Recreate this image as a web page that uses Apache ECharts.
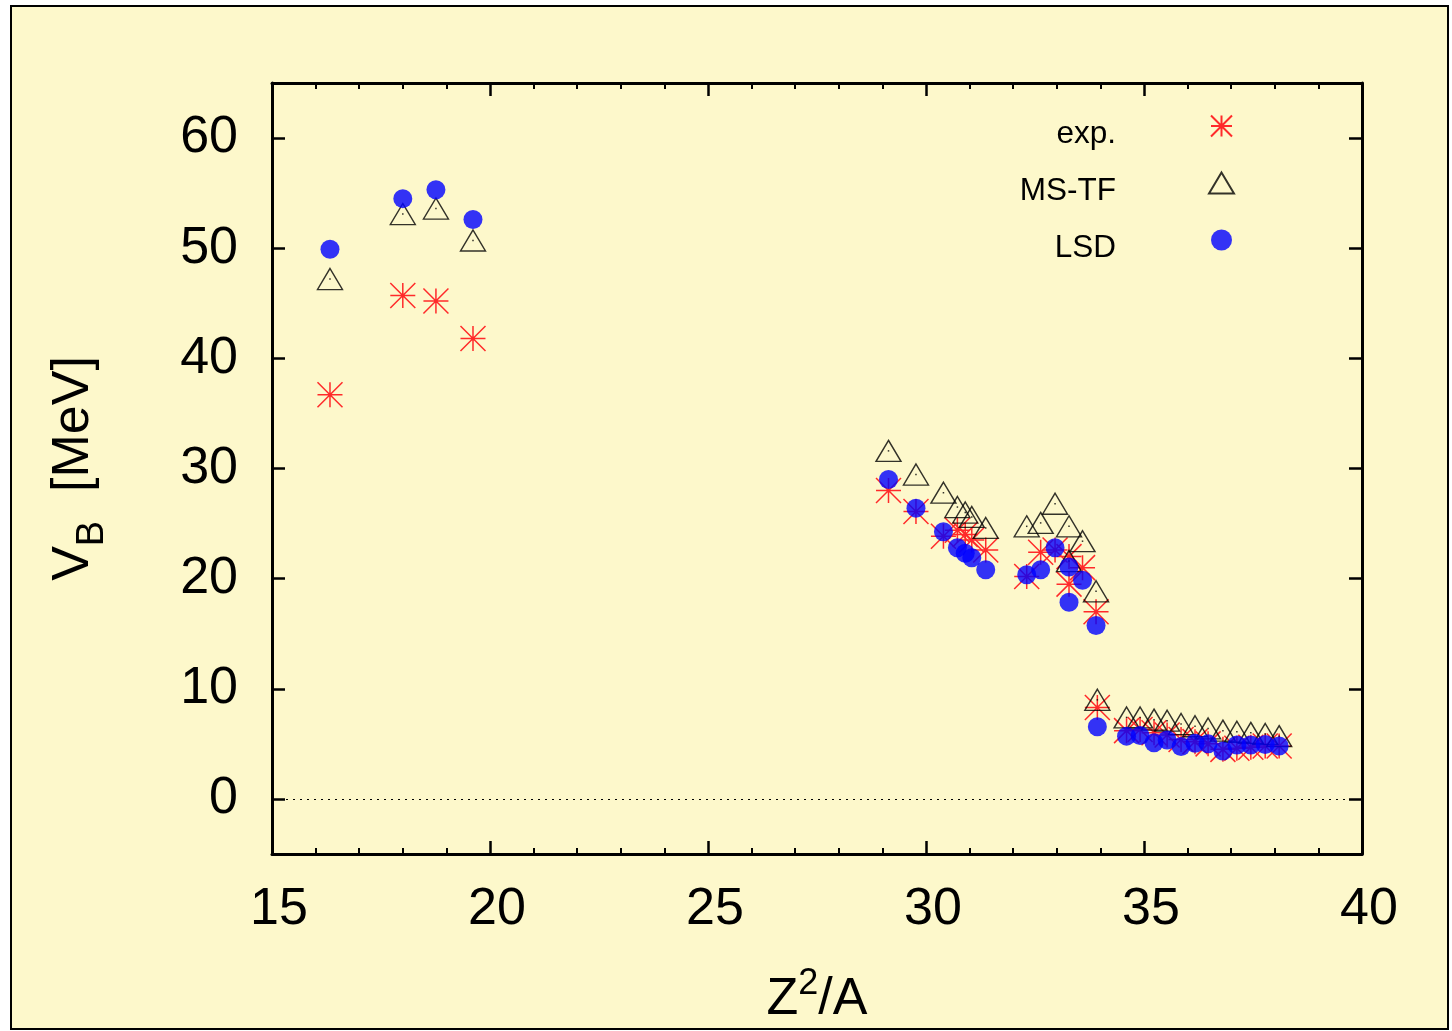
<!DOCTYPE html>
<html>
<head>
<meta charset="utf-8">
<script src="https://cdn.jsdelivr.net/npm/echarts@6/dist/echarts.min.js"></script>
<style>
html,body{margin:0;padding:0;background:#fff;}
#chart{width:1452px;height:1031px;}
</style>
</head>
<body>
<div id="chart"></div>
<script>
// Z^2/A values (shared by all three data sets)
const zSqOverA = [
  16.33, 18.00, 18.76, 19.61,
  29.14, 29.77, 30.40, 30.72, 30.90, 31.05, 31.37,
  32.31, 32.63, 32.96, 33.28, 33.28, 33.59, 33.90,
  33.93, 34.60, 34.91, 35.23, 35.53, 35.85, 36.17, 36.47, 36.81, 37.13, 37.45, 37.78, 38.10
];
// Barrier heights V_B [MeV]
const expValues = [
  36.7, 45.7, 45.2, 41.8,
  28.0, 26.1, 23.85, 24.4, 24.0, 23.5, 22.6,
  20.2, 22.4, 22.6, 19.5, 22.0, 21.0, 17.0,
  8.3, 6.2, 6.3, 6.0, 5.8, 5.4, 5.2, 5.0, 4.5, 4.6, 4.7, 4.8, 4.8
];
const msTfValues = [
  47.2, 53.1, 53.6, 50.7,
  31.6, 29.45, 27.8, 26.5, 26.0, 25.6, 24.6,
  24.75, 25.06, 26.8, 24.75, 21.6, 23.4, 18.85,
  9.0, 7.4, 7.4, 7.2, 7.1, 6.8, 6.6, 6.4, 6.2, 6.1, 6.0, 5.9, 5.7
];
const lsdValues = [
  49.9, 54.5, 55.3, 52.6,
  29.0, 26.4, 24.25, 22.8, 22.3, 21.9, 20.8,
  20.36, 20.8, 22.8, 21.06, 17.85, 19.85, 15.75,
  6.55, 5.7, 5.75, 5.1, 5.35, 4.75, 5.05, 5.0, 4.35, 4.9, 4.9, 4.95, 4.8
];
const yTickValues = [0, 10, 20, 30, 40, 50, 60];
const seriesNames = ['exp.', 'MS-TF', 'LSD'];

const pair = (ys) => zSqOverA.map((x, i) => [x, ys[i]]);
const FONT = 'Liberation Sans, Arial, Helvetica, sans-serif';
const asterisk = 'path://M0,0L2,2M0,2L2,0M1,0L1,2M0,1L2,1';

const chart = echarts.init(document.getElementById('chart'), null, {renderer: 'canvas'});
const axisLineStyle = {color: '#000', width: 3};
const tickStyle = {color: '#000', width: 2.5};
const minorStyle = {color: '#000', width: 2};

chart.setOption({
  backgroundColor: '#ffffff',
  animation: false,
  textStyle: {fontFamily: FONT},
  graphic: [{
    type: 'rect', z: -100, silent: true,
    shape: {x: 11, y: 6, width: 1437, height: 1023},
    style: {fill: '#fdf8cb', stroke: '#000', lineWidth: 2}
  }],
  grid: {left: 272, right: 90, top: 83, bottom: 177, containLabel: false},
  legend: {
    data: seriesNames,
    orient: 'vertical',
    right: 212,
    top: 97,
    align: 'right',
    itemWidth: 25,
    itemHeight: 21,
    itemGap: 9,
    selectedMode: false,
    formatter: n => '{t|' + n + '}{g| }',
    textStyle: {
      fontFamily: FONT, fontSize: 31.5, color: '#000',
      rich: {
        t: {width: 150, align: 'right', fontSize: 31.5, lineHeight: 21, fontFamily: FONT, color: '#000', padding: [16, 0, 0, 0]},
        g: {width: 88, fontSize: 31.5, lineHeight: 21}
      }
    }
  },
  xAxis: [{
    type: 'value', min: 15, max: 40, interval: 5,
    position: 'bottom',
    axisLine: {show: true, onZero: false, lineStyle: axisLineStyle},
    axisTick: {show: true, inside: true, length: 13, lineStyle: tickStyle},
    minorTick: {show: true, splitNumber: 5, length: 6, lineStyle: minorStyle},
    splitLine: {show: false},
    axisLabel: {fontSize: 52, color: '#000', fontFamily: FONT, margin: 30, padding: [0, 0, 0, 14]},
    name: '{a|Z}{s|2}{a|/A}',
    nameLocation: 'middle',
    nameGap: 112,
    nameTextStyle: {
      rich: {
        a: {fontSize: 52, fontFamily: FONT, color: '#000', lineHeight: 60, verticalAlign: 'bottom'},
        s: {fontSize: 36, fontFamily: FONT, color: '#000', lineHeight: 60, verticalAlign: 'top', padding: [0, 0, 0, 0]}
      }
    }
  }, {
    type: 'value', min: 15, max: 40, interval: 5,
    position: 'top',
    axisLine: {show: true, onZero: false, lineStyle: axisLineStyle},
    axisTick: {show: true, inside: true, length: 13, lineStyle: tickStyle},
    minorTick: {show: true, splitNumber: 5, length: 6, lineStyle: minorStyle},
    splitLine: {show: false},
    axisLabel: {show: false}
  }],
  yAxis: [{
    type: 'value', min: -5, max: 65, interval: 5,
    position: 'left',
    axisLine: {show: true, onZero: false, lineStyle: axisLineStyle},
    axisTick: {show: true, inside: true, length: 13, lineStyle: tickStyle, customValues: yTickValues},
    splitLine: {show: false},
    axisLabel: {fontSize: 52, color: '#000', fontFamily: FONT, margin: 34, customValues: yTickValues},
    name: '{a|V}{b|B}{a|  [MeV]}',
    nameLocation: 'middle',
    nameRotate: 90,
    nameGap: 160,
    nameTextStyle: {
      rich: {
        a: {fontSize: 52, fontFamily: FONT, color: '#000', lineHeight: 64, verticalAlign: 'top'},
        b: {fontSize: 38, fontFamily: FONT, color: '#000', lineHeight: 64, verticalAlign: 'bottom'}
      }
    }
  }, {
    type: 'value', min: -5, max: 65, interval: 5,
    position: 'right',
    axisLine: {show: true, onZero: false, lineStyle: axisLineStyle},
    axisTick: {show: true, inside: true, length: 13, lineStyle: tickStyle, customValues: yTickValues},
    splitLine: {show: false},
    axisLabel: {show: false}
  }],
  series: [{
    name: 'exp.',
    type: 'scatter',
    symbol: asterisk,
    symbolSize: 25,
    itemStyle: {color: 'rgba(0,0,0,0)', borderColor: '#ff2a2a', borderWidth: 1.5, opacity: 1},
    data: pair(expValues),
    z: 2
  }, {
    name: 'MS-TF',
    type: 'scatter',
    symbol: 'triangle',
    symbolSize: [25, 21],
    itemStyle: {color: 'rgba(0,0,0,0)', borderColor: '#000', borderWidth: 1.4},
    data: pair(msTfValues),
    z: 3
  }, {
    name: 'MS-TF centre',
    type: 'scatter',
    symbol: 'rect',
    symbolSize: 1.5,
    itemStyle: {color: '#000'},
    data: pair(msTfValues),
    silent: true,
    z: 3
  }, {
    name: 'LSD',
    type: 'scatter',
    symbol: 'circle',
    symbolSize: 19,
    itemStyle: {color: '#0000ff'},
    data: pair(lsdValues),
    z: 4,
    markLine: {
      silent: true,
      symbol: 'none',
      label: {show: false},
      lineStyle: {type: [2, 5], color: '#000', width: 1},
      data: [{yAxis: 0}]
    }
  }]
});
</script>
</body>
</html>
